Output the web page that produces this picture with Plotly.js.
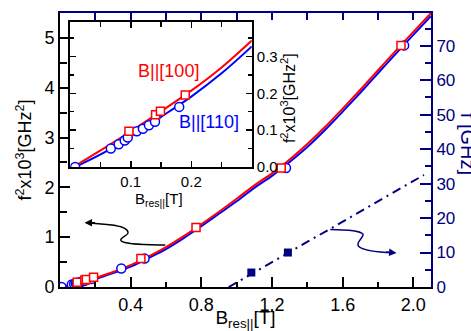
<!DOCTYPE html>
<html>
<head>
<meta charset="utf-8">
<script src="https://cdn.plot.ly/plotly-3.0.1.min.js"></script>
<style>html,body{margin:0;padding:0;background:#fff;}#chart{width:471px;height:331px;}</style>
</head>
<body>
<div id="chart"></div>
<script>
// ---- main panel: fitted curves f^2 (x10^3 GHz^2) vs B_res|| (T)
const curveB   = [0, 0.1, 0.2, 0.3, 0.4, 0.5, 0.6, 0.7, 0.8, 0.9, 1.0, 1.1, 1.2, 1.3, 1.4, 1.5, 1.6, 1.7, 1.8, 1.9, 2.0, 2.1];
const curve100 = [0, 0.07, 0.18, 0.30, 0.44, 0.61, 0.80, 1.02, 1.26, 1.51, 1.77, 2.04, 2.28, 2.56, 2.87, 3.21, 3.58, 3.96, 4.35, 4.74, 5.12, 5.5];
const curve110 = [0, 0.06, 0.16, 0.28, 0.41, 0.58, 0.76, 0.98, 1.22, 1.47, 1.72, 1.99, 2.23, 2.51, 2.81, 3.15, 3.52, 3.90, 4.29, 4.68, 5.06, 5.44];
// measured points
const pts100B = [0.097, 0.141, 0.149, 0.190, 0.458, 0.770, 1.252, 1.930];
const pts100F = [0.097, 0.142, 0.151, 0.195, 0.570, 1.195, 2.390, 4.850];
const pts110B = [0.008, 0.067, 0.080, 0.090, 0.095, 0.110, 0.120, 0.130, 0.140, 0.180, 0.347, 0.479, 1.279, 1.948];
const pts110F = [0.000, 0.050, 0.062, 0.072, 0.080, 0.097, 0.104, 0.113, 0.123, 0.163, 0.370, 0.570, 2.390, 4.850];
// right axis: f (GHz) line and points
const lineFB = [0.955, 2.06];
const lineF  = [0, 32.5];
const ptsFB  = [1.083, 1.290];
const ptsF   = [4.2, 10.0];
// ---- inset
const insetB    = [0.005, 0.05, 0.10, 0.15, 0.20, 0.25, 0.30];
const inset100  = [0.000, 0.045, 0.097, 0.151, 0.207, 0.270, 0.343];
const insetB110 = [0.008, 0.05, 0.10, 0.15, 0.20, 0.25, 0.30];
const inset110  = [0.000, 0.034, 0.083, 0.136, 0.191, 0.254, 0.327];
// ticks
const xTickVals = [0.4, 0.8, 1.2, 1.6, 2.0];
const xTickText = ['0.4', '0.8', '1.2', '1.6', '2.0'];
const yTickVals = [0, 1, 2, 3, 4, 5];
const y2TickVals = [0, 10, 20, 30, 40, 50, 60, 70];
const insXTickVals = [0.1, 0.2];
const insXTickText = ['0.1', '0.2'];
const insYTickVals = [0, 0.1, 0.2, 0.3];
const insYTickText = ['0.0', '0.1', '0.2', '0.3'];

const RED = '#ff0000', BLUE = '#0000ff', NAVY = '#000080';

const traces = [
  {x: curveB, y: curve110, mode: 'lines', line: {color: BLUE, width: 2, shape: 'spline'}, xaxis: 'x', yaxis: 'y', hoverinfo: 'skip'},
  {x: curveB, y: curve100, mode: 'lines', line: {color: RED, width: 2, shape: 'spline'}, xaxis: 'x', yaxis: 'y', hoverinfo: 'skip'},
  {x: pts110B, y: pts110F, mode: 'markers', marker: {symbol: 'circle', size: 9, color: '#fff', line: {color: BLUE, width: 1.5}}, xaxis: 'x', yaxis: 'y'},
  {x: pts100B, y: pts100F, mode: 'markers', marker: {symbol: 'square', size: 8, color: '#fff', line: {color: RED, width: 1.5}}, xaxis: 'x', yaxis: 'y'},
  {x: lineFB, y: lineF, mode: 'lines', line: {color: NAVY, width: 2, dash: '9px,5px,2px,5px'}, xaxis: 'x', yaxis: 'y3', hoverinfo: 'skip'},
  {x: ptsFB, y: ptsF, mode: 'markers', marker: {symbol: 'square', size: 8, color: NAVY}, xaxis: 'x', yaxis: 'y3'},
  // top axis carrier (transparent)
  {x: curveB, y: curve100, mode: 'lines', line: {color: 'rgba(0,0,0,0)', width: 0}, xaxis: 'x3', yaxis: 'y', hoverinfo: 'skip'},
  // inset
  {x: insetB110, y: inset110, mode: 'lines', line: {color: BLUE, width: 2, shape: 'spline'}, xaxis: 'x2', yaxis: 'y2', hoverinfo: 'skip'},
  {x: insetB, y: inset100, mode: 'lines', line: {color: RED, width: 2, shape: 'spline'}, xaxis: 'x2', yaxis: 'y2', hoverinfo: 'skip'},
  {x: pts110B, y: pts110F, mode: 'markers', marker: {symbol: 'circle', size: 9, color: '#fff', line: {color: BLUE, width: 1.5}}, xaxis: 'x2', yaxis: 'y2'},
  {x: pts100B, y: pts100F, mode: 'markers', marker: {symbol: 'square', size: 8, color: '#fff', line: {color: RED, width: 1.5}}, xaxis: 'x2', yaxis: 'y2'}
];

const FONT = 'Liberation Sans, Arial, sans-serif';
const minorX = {ticks: 'inside', ticklen: 5, tickwidth: 2, tickcolor: 'black', tickmode: 'linear', tick0: 0, dtick: 0.2, showgrid: false};

const layout = {
  width: 471, height: 331,
  margin: {l: 60, r: 40, t: 13, b: 44, pad: 0},
  paper_bgcolor: '#fff', plot_bgcolor: '#fff',
  font: {family: FONT, size: 16, color: 'black'},
  showlegend: false,
  xaxis: {
    domain: [0, 1], anchor: 'y', range: [0, 2.1],
    tickmode: 'array', tickvals: xTickVals, ticktext: xTickText,
    ticks: 'inside', ticklen: 10, tickwidth: 2, tickcolor: 'black',
    showline: true, linecolor: 'black', linewidth: 2, showgrid: false, zeroline: false,
    minor: minorX,
    tickfont: {size: 18},
    title: {text: 'B<sub>res||</sub>[T]', font: {size: 19}, standoff: 4}
  },
  xaxis3: {
    overlaying: 'x', side: 'top', anchor: 'y', range: [0, 2.1],
    tickmode: 'linear', tick0: 0, dtick: 0.2,
    ticks: 'inside', ticklen: 7, tickwidth: 2, tickcolor: NAVY,
    showline: true, linecolor: NAVY, linewidth: 2, showgrid: false, zeroline: false,
    showticklabels: false
  },
  yaxis: {
    domain: [0, 1], anchor: 'x', range: [0, 5.5],
    tickmode: 'array', tickvals: yTickVals,
    ticks: 'inside', ticklen: 10, tickwidth: 2, tickcolor: 'black',
    showline: true, linecolor: 'black', linewidth: 2, showgrid: false, zeroline: false,
    minor: {ticks: 'inside', ticklen: 7, tickwidth: 2, tickcolor: 'black', tickmode: 'linear', tick0: 0, dtick: 0.5, showgrid: false},
    tickfont: {size: 18},
    title: {text: 'f<sup>2</sup>x10<sup>3</sup>[GHz<sup>2</sup>]', font: {size: 18}, standoff: 8}
  },
  yaxis3: {
    overlaying: 'y', side: 'right', anchor: 'x', range: [0, 79.5],
    tickmode: 'array', tickvals: y2TickVals,
    ticks: 'inside', ticklen: 11, tickwidth: 2, tickcolor: NAVY,
    showline: true, linecolor: NAVY, linewidth: 2, showgrid: false, zeroline: false,
    minor: {ticks: 'inside', ticklen: 6, tickwidth: 2, tickcolor: NAVY, tickmode: 'linear', tick0: 0, dtick: 5, showgrid: false},
    tickfont: {size: 17, color: NAVY}
  },
  xaxis2: {
    domain: [0.0277, 0.517], anchor: 'y2', range: [0, 0.3],
    tickmode: 'array', tickvals: insXTickVals, ticktext: insXTickText,
    ticks: 'inside', ticklen: 6, tickwidth: 1.5, tickcolor: 'black',
    showline: true, linecolor: 'black', linewidth: 2, mirror: 'ticks', showgrid: false, zeroline: false,
    minor: {ticks: 'inside', ticklen: 5, tickwidth: 1.5, tickcolor: 'black', tickmode: 'linear', tick0: 0, dtick: 0.05, showgrid: false},
    tickfont: {size: 15}
  },
  yaxis2: {
    domain: [0.4378, 0.9656], anchor: 'x2', side: 'right', range: [0, 0.392],
    tickmode: 'array', tickvals: insYTickVals, ticktext: insYTickText,
    ticks: 'inside', ticklen: 6, tickwidth: 1.5, tickcolor: 'black',
    showline: true, linecolor: 'black', linewidth: 2, mirror: 'ticks', showgrid: false, zeroline: false,
    minor: {ticks: 'inside', ticklen: 4, tickwidth: 1.5, tickcolor: 'black', tickmode: 'linear', tick0: 0, dtick: 0.05, showgrid: false},
    tickfont: {size: 15}
  },
  shapes: [
    {type: 'path', xref: 'x', yref: 'y', line: {color: 'black', width: 1.5},
     path: 'M 0.596 0.841 C 0.48 0.85, 0.36 0.85, 0.345 0.93 C 0.335 1.0, 0.39 1.03, 0.385 1.10 C 0.38 1.18, 0.34 1.24, 0.25 1.26 L 0.15 1.288'},
    {type: 'path', xref: 'x', yref: 'y', line: {color: NAVY, width: 1.5},
     path: 'M 1.53 1.155 C 1.62 1.15, 1.70 1.14, 1.715 1.06 C 1.72 0.98, 1.67 0.90, 1.69 0.82 C 1.71 0.74, 1.80 0.70, 1.89 0.686'}
  ],
  annotations: [
    {xref: 'x', yref: 'y', x: 0.139, y: 1.288, ax: 12, ay: 0, text: '', showarrow: true, arrowhead: 2, arrowsize: 1, arrowwidth: 1.5, arrowcolor: 'black'},
    {xref: 'x', yref: 'y', x: 1.905, y: 0.684, ax: -12, ay: -1, text: '', showarrow: true, arrowhead: 2, arrowsize: 1, arrowwidth: 1.5, arrowcolor: NAVY},
    {xref: 'x2', yref: 'y2', x: 0.163, y: 0.261, xanchor: 'center', yanchor: 'middle', text: 'B||[100]', showarrow: false, font: {size: 18, color: RED}},
    {xref: 'x2', yref: 'y2', x: 0.23, y: 0.122, xanchor: 'center', yanchor: 'middle', text: 'B||[110]', showarrow: false, font: {size: 18, color: BLUE}},
    {xref: 'paper', yref: 'paper', x: 0.615, y: 0.69, xanchor: 'center', yanchor: 'middle', text: 'f<sup>2</sup>x10<sup>3</sup>[GHz<sup>2</sup>]', textangle: -90, showarrow: false, font: {size: 16, color: 'black'}},
    {xref: 'paper', yref: 'paper', x: 0.197, y: 0.318, xanchor: 'left', yanchor: 'middle', text: 'B<sub>res||</sub>[T]', showarrow: false, font: {size: 15, color: 'black'}},
    {xref: 'paper', yref: 'paper', x: 1.1, y: 0.522, xanchor: 'center', yanchor: 'middle', text: 'f [GHz]', textangle: 90, showarrow: false, font: {size: 20, color: NAVY}}
  ]
};

Plotly.newPlot('chart', traces, layout, {displayModeBar: false, staticPlot: true});
</script>
</body>
</html>
